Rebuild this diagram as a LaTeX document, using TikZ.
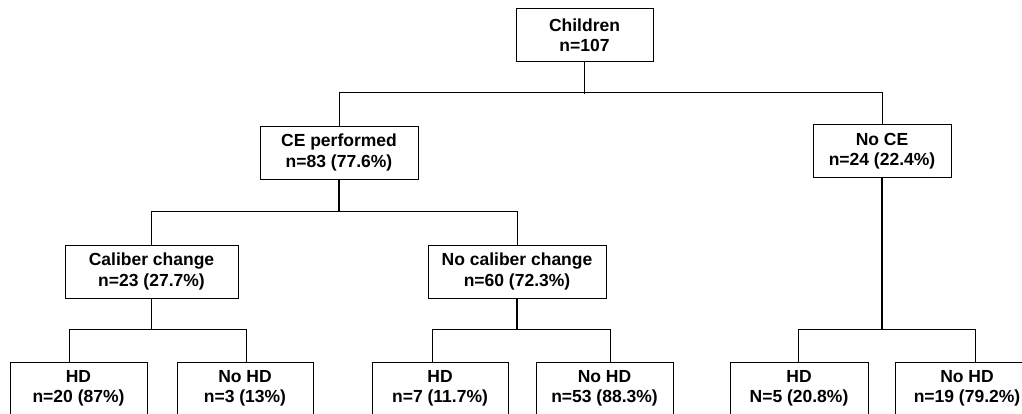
\documentclass[tikz,border=0pt]{standalone}
\usepackage{fontspec}
\setmainfont{Liberation Sans}
\usetikzlibrary{calc}
\begin{document}
\begin{tikzpicture}[x=1pt,y=-1pt,
  box/.style={draw=black,line width=0.9pt,rectangle,inner sep=0pt,
    minimum height=53pt,align=center,
    font=\fontsize{17.5}{20.5}\selectfont\bfseries},
  thin/.style={draw=black,line width=0.9pt},
  stem/.style={draw=black,line width=1.7pt}]
\useasboundingbox (0,0) rectangle (1022,413);
\begin{scope}
\clip (0,0) rectangle (1022,413);
\node[box,minimum width=137pt] (children) at (584.5,35) {Children\\n=107};
\node[box,minimum width=158pt] (ce) at (339,152.5) {CE performed\\n=83 (77.6\%)};
\node[box,minimum width=138pt] (noce) at (882,151) {No CE\\n=24 (22.4\%)};
\node[box,minimum width=173pt] (cal) at (151.5,271.5) {Caliber change\\n=23 (27.7\%)};
\node[box,minimum width=178pt] (nocal) at (517,271.5) {No caliber change\\n=60 (72.3\%)};
\node[box,minimum width=137pt] (hda) at (78.5,388.5) {HD\\n=20 (87\%)};
\node[box,minimum width=136pt] (nohda) at (245,388.5) {No HD\\n=3 (13\%)};
\node[box,minimum width=136pt] (hdb) at (440,388.5) {HD\\n=7 (11.7\%)};
\node[box,minimum width=137pt] (nohdb) at (604.5,388.5) {No HD\\n=53 (88.3\%)};
\node[box,minimum width=138pt] (hdc) at (799,388.5) {HD\\N=5 (20.8\%)};
\node[box,minimum width=144pt] (nohdc) at (967,388.5) {No HD\\n=19 (79.2\%)};

% level 1
\coordinate (j0) at ($(children.south)+(0,32)$);
\draw[stem] (children.south) -- (j0);
\draw[thin] (ce.north) -- ++(0,-33) -| (noce.north);
% level 2 under CE
\coordinate (j1) at ($(ce.south)+(0,33)$);
\draw[stem] (ce.south) -- (j1);
\draw[thin] (cal.north) -- ++(0,-33) -| (nocal.north);
% under No CE
\coordinate (j2) at ($(noce.south)+(0,152)$);
\draw[stem] (noce.south) -- (j2);
\draw[thin] ([xshift=-1pt]hdc.north) -- ++(0,-32) -| ([xshift=8pt]nohdc.north);
% under caliber change
\coordinate (j3) at ($(cal.south)+(0,32)$);
\draw[stem] (cal.south) -- (j3);
\draw[thin] ([xshift=-9.5pt]hda.north) -- ++(0,-32) -| ([xshift=1pt]nohda.north);
% under no caliber change
\coordinate (j4) at ($(nocal.south)+(0,32)$);
\draw[stem] (nocal.south) -- (j4);
\draw[thin] ([xshift=-8pt]hdb.north) -- ++(0,-32) -| ([xshift=5.5pt]nohdb.north);
\end{scope}
\end{tikzpicture}
\end{document}
